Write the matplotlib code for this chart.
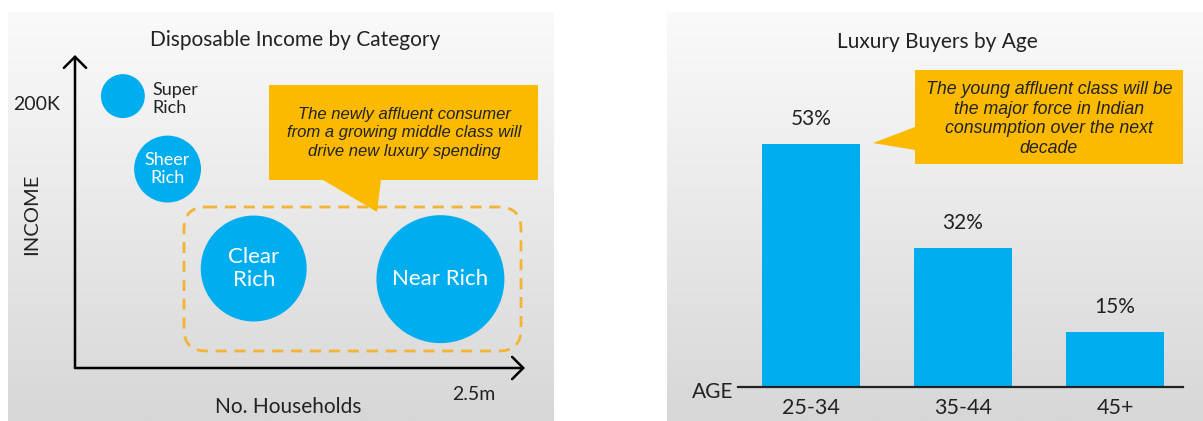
import numpy as np
import matplotlib
matplotlib.use("Agg")
import matplotlib.pyplot as plt
from matplotlib.colors import LinearSegmentedColormap
from matplotlib.patches import FancyBboxPatch, Polygon

# left panel: income segments (x = households in millions, y = income in K)
SEGMENTS = ["Super\nRich", "Sheer\nRich", "Clear\nRich", "Near Rich"]
HOUSEHOLDS_M = [0.30, 0.58, 1.12, 2.29]
INCOME_K = [205, 150, 75, 67]
BUBBLE_SIZE = [1000, 2320, 5820, 8490]

# right panel: luxury buyers by age
AGE_GROUPS = ["25-34", "35-44", "45+"]
BUYER_SHARE = [53, 32, 15]

W, H = 1203, 421
BLUE = "#00AEEF"
YELLOW = "#FBBA00"
DASH = "#F5B335"
DARK = "#222222"
FONT = "Lato"
CALLOUT_FONT = "Liberation Sans"


def px_box(x0, y0, x1, y1):
    return [x0 / W, 1 - y1 / H, (x1 - x0) / W, (y1 - y0) / H]


def main():
    plt.rcParams["font.family"] = FONT
    fig = plt.figure(figsize=(W / 100, H / 100), dpi=100)
    fig.patch.set_facecolor("white")

    # background panels with soft vertical gradient
    ax_bg = fig.add_axes([0, 0, 1, 1], zorder=0)
    ax_bg.set_xlim(0, W)
    ax_bg.set_ylim(H, 0)
    ax_bg.axis("off")
    cmap = LinearSegmentedColormap.from_list("bg", ["#fafafa", "#d7d7d7"])
    grad = np.linspace(0, 1, 256).reshape(-1, 1)
    for ext in [(8, 554, 421, 12), (667, 1203, 421, 12)]:
        ax_bg.imshow(grad, extent=ext, cmap=cmap, aspect="auto", origin="upper")

    # ---- left: bubble chart
    ax1 = fig.add_axes(px_box(75, 55, 525, 368), zorder=1)
    ax1.patch.set_alpha(0)
    ax1.set_xlim(0, 2.82)
    ax1.set_ylim(0, 236)
    for sp in ax1.spines.values():
        sp.set_visible(False)
    ax1.scatter(HOUSEHOLDS_M, INCOME_K, s=BUBBLE_SIZE, color=BLUE,
                edgecolors="none", clip_on=False, zorder=2)
    for name, x, y in zip(SEGMENTS, HOUSEHOLDS_M, INCOME_K):
        if name.startswith("Super"):
            ax1.annotate(name, (x, y), xytext=(21, -2), textcoords="offset points",
                         ha="left", va="center", fontsize=13, color=DARK,
                         linespacing=1.15)
        elif name.startswith("Sheer"):
            ax1.text(x, y, name, ha="center", va="center", fontsize=13,
                     color="white", linespacing=1.15, zorder=3)
        else:
            ax1.text(x, y, name, ha="center", va="center", fontsize=16,
                     color="white", linespacing=1.15, zorder=3)
    arrow = dict(arrowstyle="->,head_length=0.8,head_width=0.8", lw=1.8,
                 color="black", shrinkA=0, shrinkB=0)
    ax1.annotate("", xy=(1, 0), xytext=(0, 0), xycoords="axes fraction",
                 arrowprops=arrow)
    ax1.annotate("", xy=(0, 1), xytext=(0, 0), xycoords="axes fraction",
                 arrowprops=arrow)
    ax1.set_yticks([200])
    ax1.set_yticklabels(["200K"], fontsize=14, color=DARK)
    ax1.set_xticks([2.5])
    ax1.set_xticklabels(["2.5m"], fontsize=14, color=DARK)
    ax1.tick_params(length=0)
    ax1.tick_params(axis="y", pad=11)
    ax1.tick_params(axis="x", pad=13)
    ax1.set_ylabel("INCOME", fontsize=14.5, color=DARK)
    ax1.yaxis.set_label_coords(-0.078, 0.49)
    ax1.set_xlabel("No. Households", fontsize=15, color=DARK)
    ax1.xaxis.set_label_coords(0.473, -0.093)
    ax1.text(0.489, 1.048, "Disposable Income by Category", transform=ax1.transAxes,
             ha="center", va="center", fontsize=15, color=DARK)

    # ---- right: bar chart
    ax2 = fig.add_axes(px_box(738, 55, 1183, 387), zorder=1)
    ax2.patch.set_alpha(0)
    x = np.arange(len(AGE_GROUPS))
    ax2.bar(x, BUYER_SHARE, width=0.645, color=BLUE, zorder=2)
    ax2.set_xlim(-0.48, 2.447)
    ax2.set_ylim(4, 71)
    for side in ["top", "right", "left"]:
        ax2.spines[side].set_visible(False)
    ax2.spines["bottom"].set_linewidth(1.6)
    ax2.spines["bottom"].set_color(DARK)
    ax2.spines["bottom"].set_zorder(3)
    ax2.set_yticks([])
    ax2.set_xticks(x)
    ax2.set_xticklabels(AGE_GROUPS, fontsize=15.5, color=DARK)
    ax2.tick_params(axis="x", length=0, pad=8)
    for xi, v in zip(x, BUYER_SHARE):
        ax2.annotate(f"{v}%", (xi, v), xytext=(0, 11), textcoords="offset points",
                     ha="center", va="bottom", fontsize=15, color=DARK)
    ax2.text(-0.058, -0.015, "AGE", transform=ax2.transAxes, ha="center",
             va="center", fontsize=15, color=DARK)
    ax2.text(0.449, 1.039, "Luxury Buyers by Age", transform=ax2.transAxes,
             ha="center", va="center", fontsize=15, color=DARK)

    # ---- foreground: callouts and dashed group box
    ax_fg = fig.add_axes([0, 0, 1, 1], zorder=3)
    ax_fg.patch.set_alpha(0)
    ax_fg.set_xlim(0, W)
    ax_fg.set_ylim(H, 0)
    ax_fg.axis("off")
    ax_fg.add_patch(FancyBboxPatch((184, 207), 337, 144,
                                   boxstyle="round,pad=0,rounding_size=22",
                                   fill=False, ec=DASH, lw=2,
                                   ls=(0, (4, 2.8))))
    ax_fg.add_patch(Polygon([(269, 85), (538, 85), (538, 180), (381, 180),
                             (377, 212), (323, 180), (269, 180)],
                            closed=True, fc=YELLOW, ec="none"))
    ax_fg.text(404, 133, "The newly affluent consumer\nfrom a growing middle class will\n"
               "drive new luxury spending", ha="center", va="center",
               fontsize=12, style="italic", family=CALLOUT_FONT, color=DARK,
               linespacing=1.3)
    ax_fg.add_patch(Polygon([(915, 70), (1183, 70), (1183, 164), (915, 164),
                             (915, 150), (873, 143), (915, 127)],
                            closed=True, fc=YELLOW, ec="none"))
    ax_fg.text(1049, 119, "The young affluent class will be\nthe major force in Indian\n"
               "consumption over the next\ndecade", ha="center", va="center",
               fontsize=12.8, style="italic", family=CALLOUT_FONT, color=DARK,
               linespacing=1.2)

    fig.savefig("out.png", dpi=100)


if __name__ == "__main__":
    main()
